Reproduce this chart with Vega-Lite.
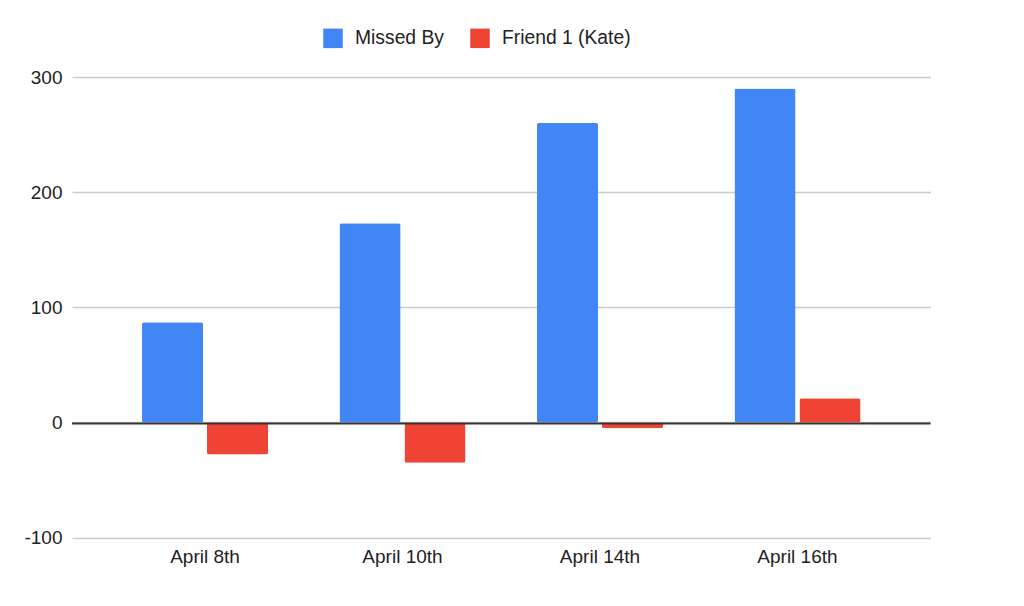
{
  "$schema": "https://vega.github.io/schema/vega-lite/v6.json",
  "width": 858.5,
  "height": 460.5,
  "autosize": {"type": "none"},
  "padding": {"left": 72, "top": 77, "right": 93.5, "bottom": 68.5},
  "background": "#ffffff",
  "config": {
    "font": "Liberation Sans",
    "view": {"stroke": null}
  },
  "layer": [
    {
      "data": {
        "values": [
          {"date": "April 8th", "series": "Missed By", "value": 87},
          {"date": "April 8th", "series": "Friend 1 (Kate)", "value": -28},
          {"date": "April 10th", "series": "Missed By", "value": 173},
          {"date": "April 10th", "series": "Friend 1 (Kate)", "value": -35},
          {"date": "April 14th", "series": "Missed By", "value": 260},
          {"date": "April 14th", "series": "Friend 1 (Kate)", "value": -5},
          {"date": "April 16th", "series": "Missed By", "value": 290},
          {"date": "April 16th", "series": "Friend 1 (Kate)", "value": 21}
        ]
      },
      "mark": {"type": "bar", "cornerRadius": 2},
      "encoding": {
        "x": {
          "field": "date",
          "type": "nominal",
          "sort": null,
          "title": null,
          "scale": {"paddingInner": 0, "paddingOuter": 0.1736},
          "axis": {
            "labelAngle": 0,
            "labelFontSize": 19,
            "labelColor": "#222222",
            "labelPadding": 10,
            "domain": false,
            "ticks": false,
            "grid": false
          }
        },
        "xOffset": {
          "field": "series",
          "type": "nominal",
          "sort": ["Missed By", "Friend 1 (Kate)"],
          "scale": {"paddingInner": 0.06, "paddingOuter": 0.55}
        },
        "y": {
          "field": "value",
          "type": "quantitative",
          "title": null,
          "scale": {"domain": [-100, 300], "nice": false},
          "axis": {
            "values": [-100, 0, 100, 200, 300],
            "labelExpr": "'' + datum.value",
            "labelFontSize": 19,
            "labelColor": "#222222",
            "labelPadding": 10,
            "domain": false,
            "ticks": false,
            "gridColor": "#cccccc",
            "gridWidth": 1.5
          }
        },
        "color": {
          "field": "series",
          "type": "nominal",
          "scale": {
            "domain": ["Missed By", "Friend 1 (Kate)"],
            "range": ["#4285f4", "#ee4335"]
          },
          "legend": {
            "title": null,
            "orient": "none",
            "direction": "horizontal",
            "columns": 2,
            "legendX": 251,
            "legendY": -49,
            "symbolType": "square",
            "symbolSize": 380,
            "symbolStrokeWidth": 0,
            "labelFontSize": 19.3,
            "labelColor": "#222222",
            "labelOffset": 12,
            "columnPadding": 26,
            "labelLimit": 200
          }
        }
      }
    },
    {
      "data": {"values": [{"zero": 0}]},
      "mark": {"type": "rule", "color": "#333333", "strokeWidth": 2, "yOffset": 1},
      "encoding": {
        "y": {"field": "zero", "type": "quantitative"}
      }
    }
  ]
}
